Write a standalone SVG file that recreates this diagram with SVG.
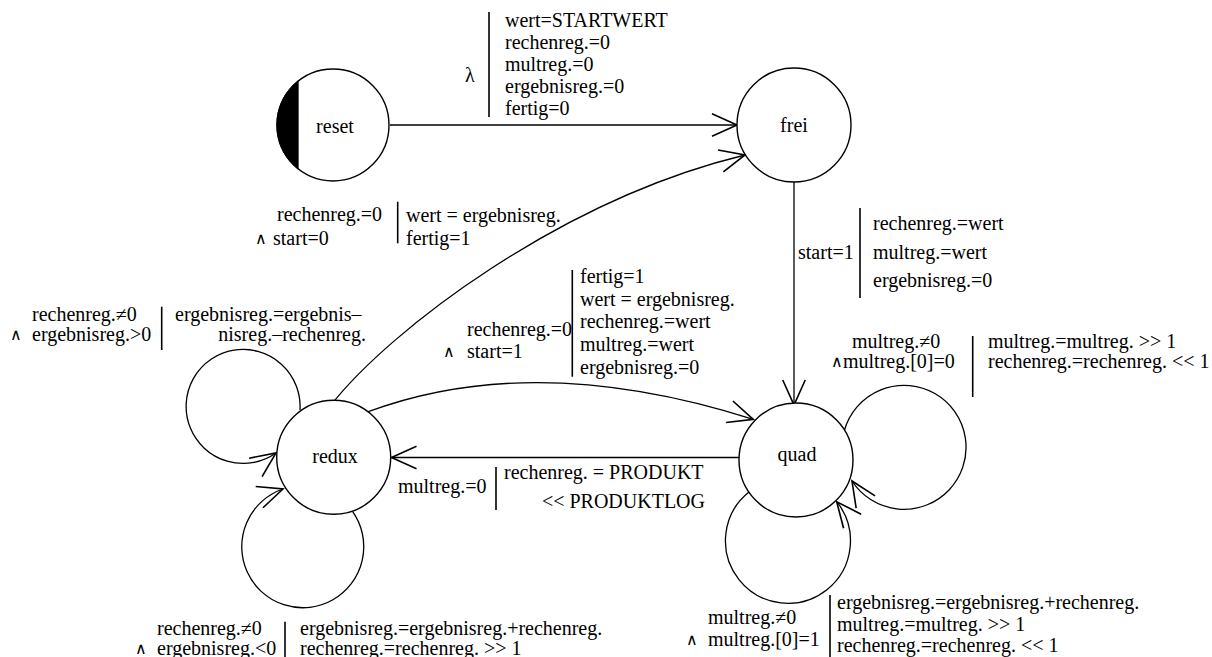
<svg xmlns="http://www.w3.org/2000/svg" width="1212" height="657" viewBox="0 0 1212 657">
  <defs>
    <marker id="arrow" markerUnits="userSpaceOnUse" markerWidth="30" markerHeight="30" viewBox="-22 -12 24 24" refX="0" refY="0" orient="auto" overflow="visible">
      <path d="M-20,-9 L0,0 L-20,9" fill="none" stroke="#000" stroke-width="1.3"/>
    </marker>
  </defs>
  <style>
    text { font-family: "Liberation Serif", "DejaVu Serif", serif; font-size: 20px; fill: #000; }
    .state { fill: #fff; stroke: #000; stroke-width: 1.4; }
    .edge { fill: none; stroke: #000; stroke-width: 1.3; marker-end: url(#arrow); }
    .bar { stroke: #000; stroke-width: 1.6; }
    .mid { text-anchor: middle; }
    .end { text-anchor: end; }
    .and { font-family: "DejaVu Sans", sans-serif; font-size: 16px; }
  </style>
  <rect width="1212" height="657" fill="#fff"/>

  <!-- transitions -->
  <g id="connectors">
    <!-- reset -> frei -->
    <path class="edge" d="M390,125 L737,125"/>
    <!-- frei -> quad -->
    <path class="edge" d="M794,182 L794,405"/>
    <!-- redux -> frei -->
    <path class="edge" d="M331,405 C390,330 560,200 745,155"/>
    <!-- redux -> quad -->
    <path class="edge" d="M368.3,411.7 Q535,349.9 753.3,419.3"/>
    <!-- quad -> redux -->
    <path class="edge" d="M739,457.5 L391.5,457.5"/>
    <!-- redux self loops -->
    <path class="edge" d="M300,410 A57,57 0 1,0 276,453"/>
    <path class="edge" d="M352.7,511.7 A61,61 0 1,1 283,489"/>
    <!-- quad self loops -->
    <path class="edge" d="M844.5,430 A62,62 0 1,1 852,481"/>
    <path class="edge" d="M749.3,491.7 A62.5,62.5 0 1,0 836.7,501.7"/>
  </g>

  <!-- states -->
  <g id="reset">
    <circle class="state" cx="333" cy="125" r="56"/>
    <path d="M298,81.3 A56,56 0 0,0 298,168.7 Z" fill="#000" stroke="#000" stroke-width="1.3"/>
    <text class="mid" x="335" y="133">reset</text>
  </g>
  <g id="frei">
    <circle class="state" cx="794" cy="125" r="57"/>
    <text class="mid" x="794" y="132">frei</text>
  </g>
  <g id="redux">
    <circle class="state" cx="333.7" cy="457.3" r="57"/>
    <text class="mid" x="335" y="463">redux</text>
  </g>
  <g id="quad">
    <circle class="state" cx="796" cy="460" r="57"/>
    <text class="mid" x="797" y="461">quad</text>
  </g>

  <!-- transition labels: guard | actions -->
  <g id="labels">
    <!-- reset -> frei -->
    <text x="465" y="82">λ</text>
    <line class="bar" x1="489" y1="12" x2="489" y2="117"/>
    <text x="505" y="27">wert=STARTWERT</text>
    <text x="505" y="49">rechenreg.=0</text>
    <text x="505" y="71">multreg.=0</text>
    <text x="505" y="93">ergebnisreg.=0</text>
    <text x="505" y="115">fertig=0</text>

    <!-- redux -> frei -->
    <text x="277" y="221">rechenreg.=0</text>
    <text class="and" x="255" y="244">∧</text>
    <text x="273" y="245">start=0</text>
    <line class="bar" x1="397.7" y1="201.7" x2="397.7" y2="243.3"/>
    <text x="406" y="222">wert = ergebnisreg.</text>
    <text x="406" y="245">fertig=1</text>

    <!-- redux loop, upper -->
    <text x="32" y="321">rechenreg.≠0</text>
    <text class="and" x="10" y="340">∧</text>
    <text x="32" y="341">ergebnisreg.&gt;0</text>
    <line class="bar" x1="161.7" y1="306.7" x2="161.7" y2="350"/>
    <text x="175" y="321">ergebnisreg.=ergebnis–</text>
    <text class="end" x="366" y="341">nisreg.–rechenreg.</text>

    <!-- redux -> quad -->
    <text x="467" y="336">rechenreg.=0</text>
    <text class="and" x="443" y="357">∧</text>
    <text x="467" y="358">start=1</text>
    <line class="bar" x1="572.3" y1="270" x2="572.3" y2="376.7"/>
    <text x="580" y="283">fertig=1</text>
    <text x="580" y="306">wert = ergebnisreg.</text>
    <text x="580" y="328">rechenreg.=wert</text>
    <text x="580" y="351">multreg.=wert</text>
    <text x="580" y="374">ergebnisreg.=0</text>

    <!-- frei -> quad -->
    <text x="798" y="259">start=1</text>
    <line class="bar" x1="860" y1="208" x2="860" y2="298"/>
    <text x="873" y="230">rechenreg.=wert</text>
    <text x="873" y="259">multreg.=wert</text>
    <text x="873" y="287">ergebnisreg.=0</text>

    <!-- quad loop, right -->
    <text x="852" y="348">multreg.≠0</text>
    <text class="and" x="831" y="367">∧</text>
    <text x="843" y="368">multreg.[0]=0</text>
    <line class="bar" x1="972.7" y1="336" x2="972.7" y2="397"/>
    <text x="988" y="348">multreg.=multreg. &gt;&gt; 1</text>
    <text x="988" y="368">rechenreg.=rechenreg. &lt;&lt; 1</text>

    <!-- quad -> redux -->
    <text x="398" y="493">multreg.=0</text>
    <line class="bar" x1="496" y1="467" x2="496" y2="510"/>
    <text x="504" y="479">rechenreg. = PRODUKT</text>
    <text class="end" x="705" y="508">&lt;&lt; PRODUKTLOG</text>

    <!-- quad loop, lower -->
    <text x="708" y="624">multreg.≠0</text>
    <text class="and" x="686" y="645">∧</text>
    <text x="708" y="646">multreg.[0]=1</text>
    <line class="bar" x1="830" y1="595" x2="830" y2="657"/>
    <text x="837" y="609">ergebnisreg.=ergebnisreg.+rechenreg.</text>
    <text x="837" y="631">multreg.=multreg. &gt;&gt; 1</text>
    <text x="837" y="652">rechenreg.=rechenreg. &lt;&lt; 1</text>

    <!-- redux loop, lower -->
    <text x="157" y="635">rechenreg.≠0</text>
    <text class="and" x="135" y="654">∧</text>
    <text x="157" y="655">ergebnisreg.&lt;0</text>
    <line class="bar" x1="285" y1="621.7" x2="285" y2="657"/>
    <text x="300" y="635">ergebnisreg.=ergebnisreg.+rechenreg.</text>
    <text x="300" y="655">rechenreg.=rechenreg. &gt;&gt; 1</text>
  </g>
</svg>
